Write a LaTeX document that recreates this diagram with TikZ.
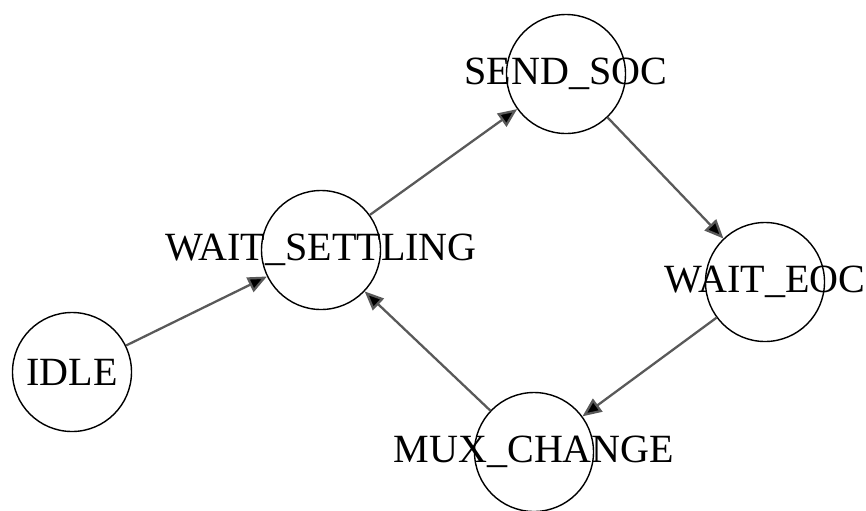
\documentclass[tikz,border=0pt]{standalone}
\usepackage{fontspec}
\setmainfont{Liberation Serif}
\usetikzlibrary{arrows.meta}
\begin{document}
\begin{tikzpicture}[state/.style={circle, draw, thin, minimum size=1.19cm, inner sep=0pt},
                    trans/.style={draw=black!65, line width=0.65pt, -{Triangle[length=1.9mm, width=1.6mm, fill=black]}}]
                    \useasboundingbox (0,0) rectangle (8.66,5.10);
                    \node[state, label={[font=\fontsize{11.4}{13}\selectfont]center:IDLE}] (idle) at (0.72,1.38) {};
                    \node[state, label={[font=\fontsize{11.4}{13}\selectfont]center:WAIT\_SETTLING}] (settle) at (3.21,2.60) {};
                    \node[state, label={[font=\fontsize{11.4}{13}\selectfont]center:SEND\_SOC}] (soc) at (5.66,4.36) {};
                    \node[state, label={[font=\fontsize{11.4}{13}\selectfont]center:WAIT\_EOC}] (eoc) at (7.65,2.28) {};
                    \node[state, label={[font=\fontsize{11.4}{13}\selectfont]center:MUX\_CHANGE}] (mux) at (5.34,0.58) {};
                    \draw[trans] (idle) -- (settle);
                    \draw[trans] (settle) -- (soc);
                    \draw[trans] (soc) -- (eoc);
                    \draw[trans] (eoc) -- (mux);
                    \draw[trans] (mux) -- (settle);
                \end{tikzpicture}
\end{document}
